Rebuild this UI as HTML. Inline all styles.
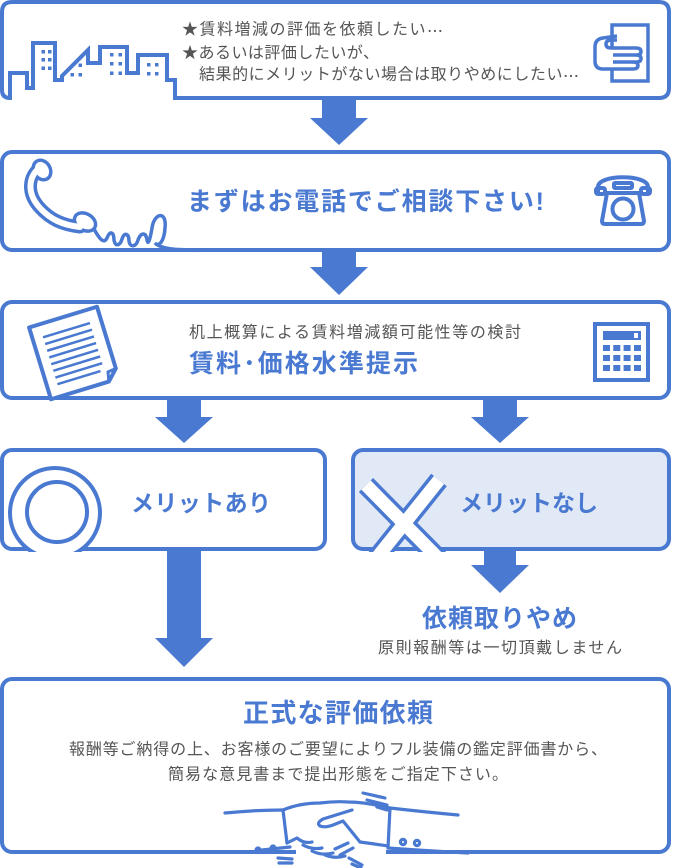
<!DOCTYPE html>
<html><head><meta charset="utf-8"><style>
html,body{margin:0;padding:0;background:#fff;}
svg{display:block;}
text{font-family:"Liberation Sans","Noto Sans CJK JP",sans-serif;dominant-baseline:central;}
.g{fill:#555;font-size:16px;}
.b{fill:#4a79d1;font-weight:bold;}
.j{font-family:"Noto Sans CJK JP",sans-serif;}
</style></head><body>
<svg width="674" height="868" viewBox="0 0 674 868" xmlns="http://www.w3.org/2000/svg">
<defs>
<clipPath id="cl"><rect x="0" y="440" width="330" height="112"/></clipPath>
<clipPath id="cr"><rect x="350" y="440" width="324" height="112"/></clipPath>
</defs>

<!-- Box 1 with skyline -->
<path d="M12,2 H659 Q669,2 669,12 V88 Q669,98 659,98 H175 V80 H167 V55 H138 V73 H127 V47 H100 V63 H88 V50 L62,76 V80 H55 V43 H33 V88 H27 V73 H10 V98 Q2,98 2,90 V12 Q2,2 12,2 Z" fill="#fff" stroke="#4a79d1" stroke-width="4" stroke-linejoin="miter"/>
<g fill="#4a79d1">
<rect x="41.5" y="50" width="3.5" height="3.5"/><rect x="48" y="50" width="3.5" height="3.5"/>
<rect x="41.5" y="58" width="3.5" height="3.5"/><rect x="48" y="58" width="3.5" height="3.5"/>
<rect x="41.5" y="66.5" width="3.5" height="3.5"/><rect x="48" y="66.5" width="3.5" height="3.5"/>
<rect x="78.5" y="63.5" width="3.5" height="3.5"/>
<rect x="70.5" y="73" width="3.5" height="3.5"/><rect x="78.5" y="73" width="3.5" height="3.5"/>
<rect x="110" y="53" width="3.5" height="3.5"/><rect x="118.5" y="53" width="3.5" height="3.5"/>
<rect x="110" y="62" width="3.5" height="3.5"/><rect x="118.5" y="62" width="3.5" height="3.5"/>
<rect x="110" y="71.5" width="3.5" height="3.5"/><rect x="118.5" y="71.5" width="3.5" height="3.5"/>
<rect x="147" y="63" width="3.5" height="3.5"/><rect x="155" y="63" width="3.5" height="3.5"/>
<rect x="147" y="72" width="3.5" height="3.5"/><rect x="155" y="72" width="3.5" height="3.5"/>
</g>
<text class="g" x="182" y="30" textLength="261">★賃料増減の評価を依頼したい<tspan class="j">…</tspan></text>
<text class="g" x="182" y="53.5" textLength="197">★あるいは評価したいが、</text>
<text class="g" x="199" y="75" textLength="380">結果的にメリットがない場合は取りやめにしたい<tspan class="j">…</tspan></text>
<!-- doc + hand icon -->
<rect x="612" y="25" width="36" height="56" fill="#fff" stroke="#4a79d1" stroke-width="3.5"/>
<path d="M617,36 L603,38 Q595,39 595,47 L595,61 Q595,69 603,69 L633,69 Q638,69 638,65.5 Q638,62 633,62 L636,62 Q641,62 641,58.5 Q641,55 636,55 Q641,55 641,51.5 Q641,48 636,48 L611,48 Q606,48 606,44 Q606,40 612,40 L617,40" fill="#fff" stroke="#4a79d1" stroke-width="3.5" stroke-linejoin="round"/>
<path d="M613,55 H636 M613,62 H633" stroke="#4a79d1" stroke-width="3.5" fill="none"/>

<!-- Arrow 1 -->
<path d="M322,99 H356 V118 H368 L339,145 L310,118 H322 Z" fill="#4a79d1"/>

<!-- Box 2 -->
<rect x="2" y="152" width="667" height="98" rx="10" fill="#fff" stroke="#4a79d1" stroke-width="4"/>
<!-- handset -->
<g>
<path d="M42,166 C27,176 27,194 40,208 C50,219 62,225 80,227" fill="none" stroke="#4a79d1" stroke-width="13" stroke-linecap="round"/>
<ellipse cx="42" cy="170" rx="10" ry="12" transform="rotate(-30 42 170)" fill="#4a79d1"/>
<ellipse cx="85" cy="222" rx="13" ry="10" transform="rotate(30 85 222)" fill="#4a79d1"/>
<path d="M42,166 C27,176 27,194 40,208 C50,219 62,225 80,227" fill="none" stroke="#fff" stroke-width="6" stroke-linecap="round"/>
<ellipse cx="42" cy="170" rx="6.5" ry="8.5" transform="rotate(-30 42 170)" fill="#fff"/>
<ellipse cx="85" cy="222" rx="9.5" ry="6.5" transform="rotate(30 85 222)" fill="#fff"/>
<path d="M94,229 C100,240 104,244 107,238 C110,230 114,232 114,240 C115,247 120,246 122,239 C124,232 129,233 129,241 C130,248 136,247 138,240 C141,232 146,232 147,240 C148,246 150,240 152,228 C154,213 167,210 165,228 C164,243 158,247 155,243 C162,250 180,250 205,250" fill="none" stroke="#4a79d1" stroke-width="3.5" stroke-linecap="round"/>
</g>
<text class="b" x="187" y="202" font-size="25" textLength="357">まずはお電話でご相談下さい!</text>
<!-- tel icon -->
<g fill="none" stroke="#4a79d1" stroke-width="4" stroke-linejoin="round">
<path d="M598,193 L598,187 C598,174 648,174 648,187 L648,193"/>
<rect x="596" y="188" width="9" height="6" rx="2"/>
<rect x="641" y="188" width="9" height="6" rx="2"/>
<rect x="614" y="183" width="18" height="5" rx="1"/>
<path d="M607,193 H639 L644,221 Q644,224 641,224 H605 Q602,224 602,221 Z" fill="#fff"/>
<circle cx="623" cy="209" r="10.5" fill="#fff"/>
</g>

<!-- Arrow 2 -->
<path d="M322,251 H356 V267 H368 L339,295 L310,267 H322 Z" fill="#4a79d1"/>

<!-- Box 3 -->
<rect x="2" y="302" width="667" height="96" rx="10" fill="#fff" stroke="#4a79d1" stroke-width="4"/>
<g transform="translate(74,353) rotate(-17)">
<path d="M-35.5,-37.5 H35.5 V27 L25,37.5 H-35.5 Z" fill="#fff" stroke="#4a79d1" stroke-width="4" stroke-linejoin="round"/>
<path d="M25,37.5 L27,28 L35.5,27" fill="none" stroke="#4a79d1" stroke-width="3"/>
<g stroke="#4a79d1" stroke-width="2.5">
<line x1="-25" y1="-24" x2="24" y2="-24"/>
<line x1="-25" y1="-17" x2="24" y2="-17"/>
<line x1="-25" y1="-10" x2="24" y2="-10"/>
<line x1="-25" y1="-3" x2="24" y2="-3"/>
<line x1="-25" y1="4" x2="24" y2="4"/>
<line x1="-25" y1="11" x2="24" y2="11"/>
<line x1="-25" y1="18" x2="24" y2="18"/>
<line x1="-25" y1="25" x2="20" y2="25"/>
</g>
</g>
<text class="g" x="189" y="333" textLength="332">机上概算による賃料増減額可能性等の検討</text>
<text class="b" x="189" y="364" font-size="25" textLength="229">賃料･価格水準提示</text>
<!-- calculator -->
<rect x="595" y="324" width="53" height="56" fill="#fff" stroke="#4a79d1" stroke-width="4"/>
<rect x="603" y="331" width="38" height="9" fill="#4a79d1"/>
<rect x="634" y="333" width="4" height="5" fill="#fff"/>
<g fill="#4a79d1">
<rect x="603" y="345" width="7" height="6"/><rect x="613.3" y="345" width="7" height="6"/><rect x="623.6" y="345" width="7" height="6"/><rect x="634" y="345" width="7" height="6"/>
<rect x="603" y="355" width="7" height="6"/><rect x="613.3" y="355" width="7" height="6"/><rect x="623.6" y="355" width="7" height="6"/><rect x="634" y="355" width="7" height="6"/>
<rect x="603" y="365" width="7" height="6"/><rect x="613.3" y="365" width="7" height="6"/><rect x="623.6" y="365" width="7" height="6"/><rect x="634" y="365" width="7" height="6"/>
</g>

<!-- Arrows 3 -->
<path d="M167,399 H201 V417 H213 L184,443 L155,417 H167 Z" fill="#4a79d1"/>
<path d="M483,399 H517 V417 H529 L500,443 L471,417 H483 Z" fill="#4a79d1"/>

<!-- Merit boxes -->
<rect x="2" y="450" width="323" height="99" rx="10" fill="#fff" stroke="#4a79d1" stroke-width="4"/>
<rect x="353" y="450" width="316" height="99" rx="10" fill="#e1e8f6" stroke="#4a79d1" stroke-width="4"/>
<g clip-path="url(#cl)">
<circle cx="55" cy="513" r="45" fill="#fff" stroke="#4a79d1" stroke-width="4"/>
<circle cx="57" cy="512" r="30" fill="#fff" stroke="#4a79d1" stroke-width="4"/>
</g>
<g clip-path="url(#cr)" stroke-linecap="butt">
<line x1="366" y1="485" x2="440" y2="560" stroke="#4a79d1" stroke-width="20"/>
<line x1="439" y1="480" x2="375" y2="560" stroke="#4a79d1" stroke-width="20"/>
<line x1="366" y1="485" x2="440" y2="560" stroke="#fff" stroke-width="13"/>
<line x1="439" y1="480" x2="375" y2="560" stroke="#fff" stroke-width="13"/>
</g>
<text class="b" x="131" y="503" font-size="23" textLength="140">メリットあり</text>
<text class="b" x="460" y="503" font-size="23" textLength="138">メリットなし</text>

<!-- Arrows 4 -->
<path d="M167,551 H201 V638 H213 L184,667 L155,638 H167 Z" fill="#4a79d1"/>
<path d="M484,551 H516 V565 H529 L500,593 L471,565 H484 Z" fill="#4a79d1"/>
<text class="b" x="422" y="619" font-size="25" textLength="155">依頼取りやめ</text>
<text class="g" x="378" y="648.5" textLength="244">原則報酬等は一切頂戴しません</text>

<!-- Bottom box -->
<rect x="2" y="679" width="667" height="173" rx="10" fill="#fff" stroke="#4a79d1" stroke-width="4"/>
<text class="b" x="243" y="713" font-size="26" textLength="190">正式な評価依頼</text>
<text class="g" x="69" y="750" textLength="538">報酬等ご納得の上、お客様のご要望によりフル装備の鑑定評価書から、</text>
<text class="g" x="168" y="775" textLength="340">簡易な意見書まで提出形態をご指定下さい。</text>
<!-- handshake -->
<rect x="296" y="848" width="90" height="8" fill="#fff"/>
<g fill="none" stroke="#4a79d1" stroke-width="3.2" stroke-linecap="round" stroke-linejoin="round">
<path d="M225,813 Q255,810 283,810"/>
<path d="M283,810 L287,843"/>
<path d="M283,810 Q300,803 320,803 Q335,801 348,802 Q365,802 390,808"/>
<path d="M390,808 Q425,812 458,815"/>
<path d="M390,808 L388,848"/>
<path d="M388,848 Q430,851 468,853"/>
<path d="M352,810 L323,819 Q316,823 320,826 Q325,828 333,825 L343,821 L360,842"/>
<path d="M360,842 Q375,844 388,846"/>
<path d="M287,843 L297,838 Q304,844 312,842"/>
<path d="M303,845 Q312,850 322,848"/>
<path d="M312,851 Q322,856 333,853"/>
<path d="M325,855 Q335,859 345,856"/>
<path d="M335,849 L348,843 M340,855 L353,848"/>
<path d="M262,850 L290,847"/>
<path d="M363,793 L385,798 M367,800 L387,805 M377,807 L387,810"/>
<path d="M278,858 L292,859 M279,863 L292,863"/>
<path d="M349,858 L362,865 M352,864 L361,868"/>
<circle cx="403" cy="842" r="2.6"/>
<circle cx="417" cy="843" r="2.6"/>
</g>
<circle cx="258" cy="850" r="3.6" fill="#4a79d1"/>
<circle cx="273" cy="848" r="3.6" fill="#4a79d1"/>
</svg>
</body></html>
